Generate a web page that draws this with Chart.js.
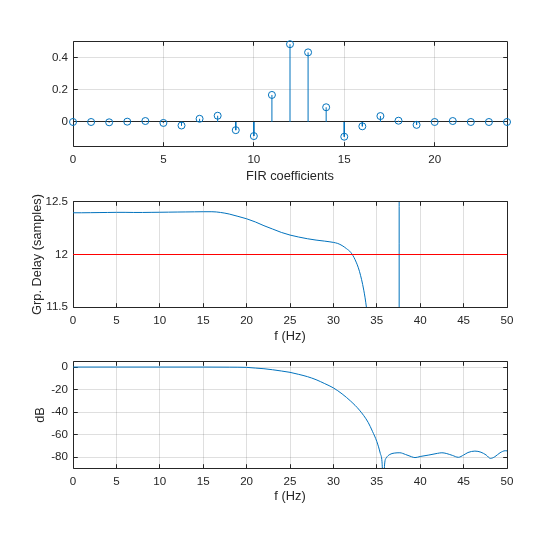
<!DOCTYPE html>
<html>
<head>
<meta charset="utf-8">
<title>FIR filter</title>
<script src="https://cdn.jsdelivr.net/npm/chart.js@4.4.1/dist/chart.umd.min.js"></script>
<style>
	body { margin: 0; background: #fff; }
	.plot { position: absolute; left: 0; }
</style>
</head>
<body>
<canvas id="coefChart" class="plot" width="560" height="160" style="top:30px"></canvas>
<canvas id="delayChart" class="plot" width="560" height="160" style="top:190px"></canvas>
<canvas id="magChart" class="plot" width="560" height="160" style="top:350px"></canvas>
<script>
/* data */
const taps = [0, 1, 2, 3, 4, 5, 6, 7, 8, 9, 10, 11, 12, 13, 14, 15, 16, 17, 18, 19, 20, 21, 22, 23, 24]
const coefs = [0, 0, -0.002, 0.002, 0.006, -0.006, -0.022, 0.02, 0.039, -0.051, -0.088, 0.169, 0.486,
	0.435, 0.092, -0.092, -0.027, 0.037, 0.008, -0.018, 0, 0.006, 0, 0, 0]

const gdFreq = [0, 1, 2, 3, 4, 5, 6, 7, 8, 9, 10, 11, 12, 13, 14, 15, 16, 17, 18, 19, 20, 21, 22, 23, 24,
	25, 26, 27, 28, 29, 30, 30.5, 31, 31.5, 32, 32.5, 33, 33.5, 33.8, 34, 35, 36, 37, 37.55, 37.6, 38, 40, 45, 50]
const gdDelay = [12.397, 12.397, 12.398, 12.399, 12.4, 12.401, 12.401, 12.4, 12.4, 12.401, 12.402, 12.403,
	12.404, 12.405, 12.406, 12.407, 12.407, 12.4, 12.385, 12.363, 12.34, 12.31, 12.274, 12.242, 12.21,
	12.185, 12.166, 12.15, 12.137, 12.127, 12.115, 12.105, 12.085, 12.056, 12.02, 11.95, 11.84, 11.66, 11.5,
	11.35, 10.6, 9.2, 6.5, -20, 40, 20, 16, 15, 14]
const refDelay = 12

const magFreq = [0, 5, 10, 15, 18, 20, 21, 22, 23, 24, 25, 26, 27, 28, 29, 30, 31, 32, 33, 34, 34.5, 35,
	35.4, 35.6, 35.77, 35.9, 36.1, 36.5, 37, 37.66, 38.3, 39, 39.4, 40, 41, 42, 42.5, 43, 43.7, 44.4, 45,
	45.5, 46.3, 47, 47.6, 48.1, 48.6, 49.2, 49.8, 50]
const magDb = [0, 0, 0, 0, -0.1, -0.3, -0.9, -1.5, -2.4, -3.5, -4.7, -6.5, -8.5, -11.2, -14.7, -18.5, -23.8,
	-30.3, -38.2, -49, -57, -66, -76.5, -84, -110, -86, -80.5, -77.5, -76.3, -76, -77.5, -79.5, -80.3, -79.3,
	-78, -76.5, -76, -76.6, -78.3, -80, -78, -75.8, -74.5, -75.5, -78, -81, -79.5, -76, -74.2, -74.3]

const tapTicks = [0, 5, 10, 15, 20]
const coefTicks = [0, 0.2, 0.4]
const freqTicks = [0, 5, 10, 15, 20, 25, 30, 35, 40, 45, 50]
const delayTicks = [11.5, 12, 12.5]
const dbTicks = [-80, -60, -40, -20, 0]

const blue = '#0072BD'
const axisColor = '#262626'
const gridColor = 'rgba(38,38,38,0.15)'
const fontFamily = '"Liberation Sans", Arial, Helvetica, sans-serif'

// box round the axes with the ticks pointing inwards (matlab look)
const axesFrame = {
	id: 'axesFrame',
	beforeDatasetsDraw(chart) {
		const { ctx, chartArea, scales } = chart
		const left = Math.floor(chartArea.left) + 0.5
		const right = Math.floor(chartArea.right) + 0.5
		const top = Math.floor(chartArea.top) + 0.5
		const bottom = Math.floor(chartArea.bottom) + 0.5
		const len = 4.3

		ctx.save()
		ctx.strokeStyle = axisColor
		ctx.lineWidth = 1
		ctx.beginPath()
		scales.x.ticks.forEach((t) => {
			const px = Math.floor(scales.x.getPixelForValue(t.value)) + 0.5
			ctx.moveTo(px, bottom)
			ctx.lineTo(px, bottom - len)
			ctx.moveTo(px, top)
			ctx.lineTo(px, top + len)
		})
		scales.y.ticks.forEach((t) => {
			const py = Math.floor(scales.y.getPixelForValue(t.value)) + 0.5
			ctx.moveTo(left, py)
			ctx.lineTo(left + len, py)
			ctx.moveTo(right, py)
			ctx.lineTo(right - len, py)
		})
		ctx.rect(left, top, right - left, bottom - top)
		ctx.stroke()
		ctx.restore()
	},
}

function tickList(values) {
	return function (scale) {
		scale.ticks = values.map((v) => ({ value: v }))
	}
}

function makePlot(id, opts) {
	return new Chart(document.getElementById(id), {
		type: 'scatter',
		data: { datasets: opts.datasets },
		plugins: [axesFrame],
		options: {
			responsive: false,
			animation: false,
			events: [],
			layout: {
				padding: { top: opts.top, right: 53, bottom: 0, left: 0 },
			},
			scales: {
				x: {
					type: 'linear',
					min: opts.xMin,
					max: opts.xMax,
					afterBuildTicks: tickList(opts.xTicks),
					afterFit: (scale) => {
						scale.height = opts.xHeight
					},
					border: { display: false },
					grid: { color: gridColor, lineWidth: 1, drawTicks: false },
					ticks: {
						padding: 7,
						maxRotation: 0,
						color: axisColor,
						font: { family: fontFamily, size: 11.6 },
						callback: (v) => String(v),
					},
					title: {
						display: true,
						text: opts.xTitle,
						color: axisColor,
						font: { family: fontFamily, size: 12.8 },
						padding: { top: 0, bottom: 6 },
					},
				},
				y: {
					type: 'linear',
					min: opts.yMin,
					max: opts.yMax,
					afterBuildTicks: tickList(opts.yTicks),
					afterFit: (scale) => {
						scale.width = 73
					},
					border: { display: false },
					grid: {
						color: opts.yGridColor || gridColor,
						lineWidth: 1,
						drawTicks: false,
					},
					ticks: {
						padding: 5,
						color: axisColor,
						font: { family: fontFamily, size: 11.6 },
						callback: (v) => String(v),
					},
					title: {
						display: !!opts.yTitle,
						text: opts.yTitle || '',
						color: axisColor,
						font: { family: fontFamily, size: 12.8 },
						padding: { top: opts.yTitlePad || 0, bottom: 0 },
					},
				},
			},
			plugins: {
				legend: { display: false },
				tooltip: { enabled: false },
			},
		},
	})
}

/* plot 1 - stem of the coefficients */
const stemPoints = []
taps.forEach((n, i) => {
	stemPoints.push({ x: n, y: 0 }, { x: n, y: coefs[i] }, { x: n, y: null })
})

makePlot('coefChart', {
	top: 10,
	xHeight: 44,
	xMin: 0,
	xMax: 24,
	yMin: -0.15,
	yMax: 0.5,
	xTicks: tapTicks,
	yTicks: coefTicks,
	xTitle: 'FIR coefficients',
	// zero line of the stem plot is black
	yGridColor: (c) => (c.tick && c.tick.value === 0 ? axisColor : gridColor),
	datasets: [
		{
			data: taps.map((n, i) => ({ x: n, y: coefs[i] })),
			pointRadius: 3.5,
			pointBorderWidth: 1,
			pointBorderColor: blue,
			pointBackgroundColor: 'rgba(0,0,0,0)',
			showLine: false,
			clip: false,
		},
		{
			data: stemPoints,
			showLine: true,
			spanGaps: false,
			borderColor: blue,
			borderWidth: 1,
			pointRadius: 0,
		},
	],
})

/* plot 2 - group delay */
makePlot('delayChart', {
	top: 11,
	xHeight: 43,
	xMin: 0,
	xMax: 50,
	yMin: 11.5,
	yMax: 12.5,
	xTicks: freqTicks,
	yTicks: delayTicks,
	xTitle: 'f (Hz)',
	yTitle: 'Grp. Delay (samples)',
	yTitlePad: 30,
	datasets: [
		{
			data: [
				{ x: freqTicks[0], y: refDelay },
				{ x: freqTicks[freqTicks.length - 1], y: refDelay },
			],
			showLine: true,
			borderColor: '#FF0000',
			borderWidth: 1.2,
			pointRadius: 0,
		},
		{
			data: gdFreq.map((f, i) => ({ x: f, y: gdDelay[i] })),
			showLine: true,
			borderColor: blue,
			borderWidth: 1,
			pointRadius: 0,
			cubicInterpolationMode: 'monotone',
		},
	],
})

/* plot 3 - magnitude */
makePlot('magChart', {
	top: 11,
	xHeight: 42,
	xMin: 0,
	xMax: 50,
	yMin: -89.5,
	yMax: 4.5,
	xTicks: freqTicks,
	yTicks: dbTicks,
	xTitle: 'f (Hz)',
	yTitle: 'dB',
	yTitlePad: 33,
	datasets: [
		{
			data: magFreq.map((f, i) => ({ x: f, y: magDb[i] })),
			showLine: true,
			borderColor: blue,
			borderWidth: 1,
			pointRadius: 0,
			cubicInterpolationMode: 'monotone',
		},
	],
})
</script>
</body>
</html>
